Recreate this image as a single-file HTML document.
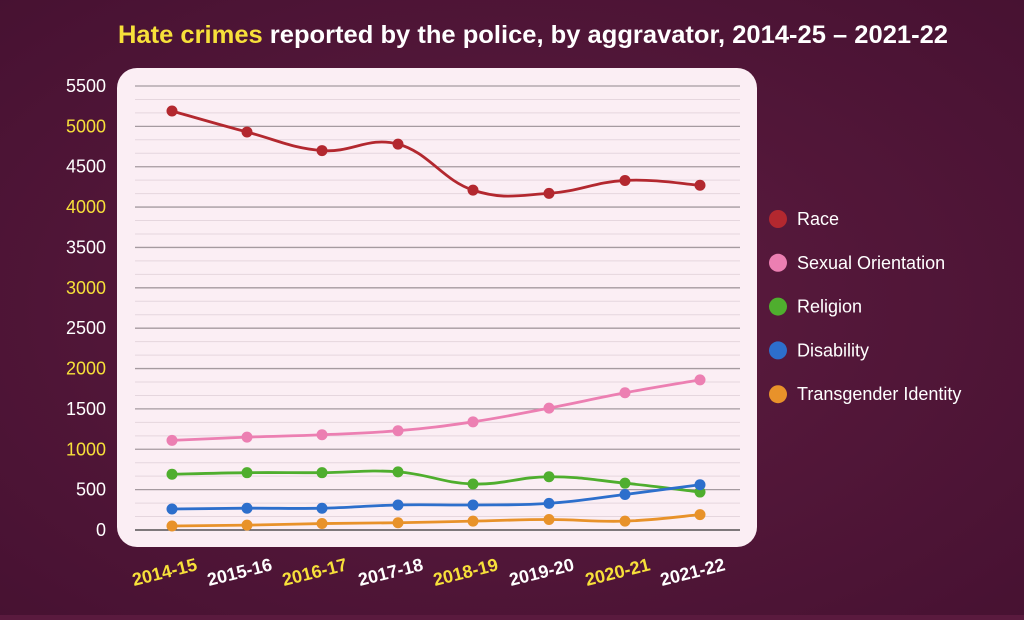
<!DOCTYPE html>
<html><head><style>
body{margin:0;width:1024px;height:615px;overflow:hidden;background:#5a1a3e;font-family:"Liberation Sans",sans-serif}
</style></head><body>
<svg id="s" width="1024" height="615" xmlns="http://www.w3.org/2000/svg">
<defs><radialGradient id="bg" cx="0.5" cy="0.5" r="0.8"><stop offset="0" stop-color="#5e1c40"/><stop offset="1" stop-color="#441030"/></radialGradient></defs>
<rect width="1024" height="615" fill="url(#bg)"/>
<rect x="117" y="68" width="640" height="479" rx="20" fill="#fbeef4"/>
<text x="533" y="43" text-anchor="middle" font-size="25" font-weight="bold" fill="#fff" textLength="830" lengthAdjust="spacingAndGlyphs"><tspan fill="#f7e03a">Hate crimes</tspan> reported by the police, by aggravator, 2014-25 – 2021-22</text>
<g id="g"></g>
</svg>
<script>
var g=document.getElementById('g'),h='';
function Y(v){return 530-v*0.08073;}
for(var i=0;i<=33;i++){var v=i*500/3,y=Y(v);var major=i%3==0;
h+='<line x1="135" x2="740" y1="'+y+'" y2="'+y+'" stroke="'+(i==0?'#333':major?'#a59aa0':'#e5d6de')+'" stroke-width="'+(major?1.3:1)+'"/>';}
for(var k=0;k<=11;k++){h+='<text x="106" y="'+(Y(k*500)+6)+'" text-anchor="end" font-size="18" fill="'+((k>0&&k%2==0)?'#f7e03a':'#fff')+'">'+k*500+'</text>';}
var X=[172,247,322,398,473,549,625,700],L=['2014-15','2015-16','2016-17','2017-18','2018-19','2019-20','2020-21','2021-22'];
for(var k=0;k<8;k++){h+='<text transform="translate('+(X[k]-6)+',578) rotate(-14)" text-anchor="middle" font-size="18" font-weight="bold" fill="'+(k%2?'#fff':'#f7e03a')+'">'+L[k]+'</text>';}
var S=[['#b3282f',[5190,4930,4700,4780,4210,4170,4330,4270],'Race'],
['#ec7fb2',[1110,1150,1180,1230,1340,1510,1700,1860],'Sexual Orientation'],
['#4fae2e',[690,710,710,720,570,660,580,470],'Religion'],
['#2d6fcc',[260,270,270,310,310,330,440,560],'Disability'],
['#e8922a',[50,60,80,90,110,130,110,190],'Transgender Identity']];
S.forEach(function(s,j){var p=s[1].map(function(v,i){return [X[i],Y(v)]});
var d='M'+p[0][0]+','+p[0][1];
for(var i=0;i<p.length-1;i++){var p0=p[i-1]||p[i],p1=p[i],p2=p[i+1],p3=p[i+2]||p2,t=0.2;
d+=' C'+(p1[0]+(p2[0]-p0[0])*t)+','+(p1[1]+(p2[1]-p0[1])*t)+' '+(p2[0]-(p3[0]-p1[0])*t)+','+(p2[1]-(p3[1]-p1[1])*t)+' '+p2[0]+','+p2[1];}
h+='<path d="'+d+'" fill="none" stroke="'+s[0]+'" stroke-width="2.8"/>';
p.forEach(function(q){h+='<circle cx="'+q[0]+'" cy="'+q[1]+'" r="5.5" fill="'+s[0]+'"/>';});
var ly=219+j*43.8;
h+='<circle cx="778" cy="'+ly+'" r="9" fill="'+s[0]+'"/><text x="797" y="'+(ly+6)+'" font-size="18" fill="#fff">'+s[2]+'</text>';});
g.innerHTML=h;
</script>
</body></html>
